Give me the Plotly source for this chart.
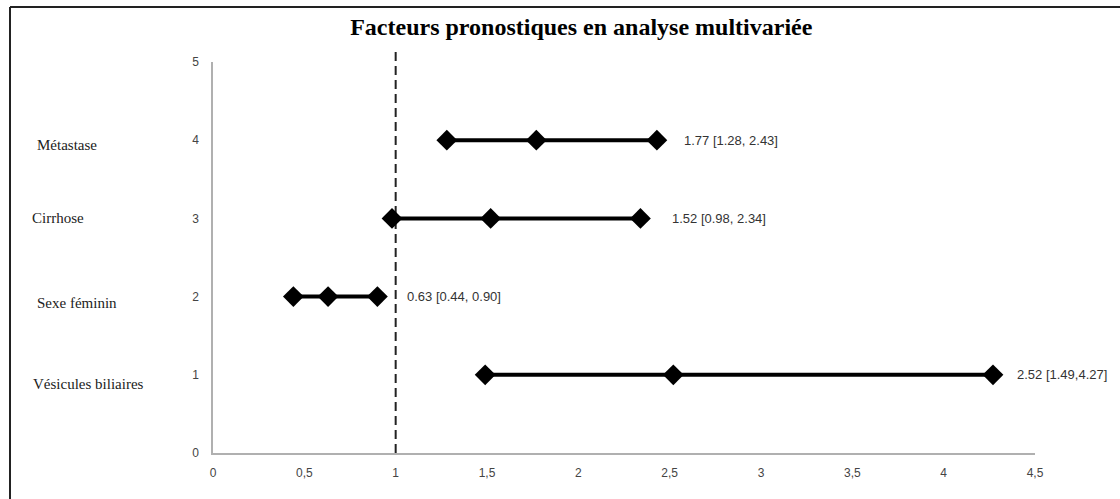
import plotly.graph_objects as go

categories = ["Vésicules biliaires", "Sexe féminin", "Cirrhose", "Métastase"]
positions = [1, 2, 3, 4]
odds_ratio = [2.52, 0.63, 1.52, 1.77]
ci_lower = [1.49, 0.44, 0.98, 1.28]
ci_upper = [4.27, 0.90, 2.34, 2.43]
ci_labels = ["2.52 [1.49,4.27]", "0.63 [0.44, 0.90]", "1.52 [0.98, 2.34]", "1.77 [1.28, 2.43]"]
x_ticks = [0, 0.5, 1, 1.5, 2, 2.5, 3, 3.5, 4, 4.5]
x_tick_text = ["0", "0,5", "1", "1,5", "2", "2,5", "3", "3,5", "4", "4,5"]
y_ticks = [0, 1, 2, 3, 4, 5]
reference_line = 1

W, H = 1120, 499
L, R, T, B = 213, 85, 62, 46
PW, PH = W - L - R, H - T - B


def px_x(px):
    return (px - L) / PW


def px_y(py):
    return (H - B - py) / PH


fig = go.Figure()

# dashed reference line at x = 1
fig.add_shape(type="line", xref="x", yref="paper",
              x0=reference_line, x1=reference_line, y0=0, y1=px_y(50),
              line=dict(color="#222222", width=2, dash="9px,5px"), layer="below")

for i, cat in enumerate(categories):
    fig.add_trace(go.Scatter(
        x=[ci_lower[i], odds_ratio[i], ci_upper[i]],
        y=[positions[i]] * 3,
        mode="lines+markers",
        line=dict(color="black", width=4),
        marker=dict(symbol="diamond", size=16, color="black"),
        showlegend=False,
        hoverinfo="skip",
        name=cat,
    ))

annotations = []
label_shift = [22, 28, 30, 25]
for i in range(len(categories)):
    annotations.append(dict(
        x=ci_upper[i], y=positions[i], xref="x", yref="y",
        text=ci_labels[i], showarrow=False, xanchor="left", yanchor="middle",
        xshift=label_shift[i],
        font=dict(family="Liberation Sans, Arial, sans-serif", size=13, color="#333333"),
    ))

cat_x = [31, 35, 30, 35]
cat_yshift = [-9, -6, 0, -5]
for i, cat in enumerate(categories):
    annotations.append(dict(
        x=px_x(cat_x[i]), y=positions[i], xref="paper", yref="y",
        text=cat, showarrow=False, xanchor="left", yanchor="middle",
        yshift=cat_yshift[i],
        font=dict(family="Liberation Serif, Times New Roman, serif", size=15, color="#222222"),
    ))

fig.update_layout(
    width=W, height=H,
    margin=dict(l=L, r=R, t=T, b=B),
    paper_bgcolor="white", plot_bgcolor="white",
    title=dict(
        text="<b>Facteurs pronostiques en analyse multivariée</b>",
        x=0.519, xanchor="center", y=1 - 27 / H, yanchor="middle",
        font=dict(family="Liberation Serif, Times New Roman, serif", size=24, color="black"),
    ),
    xaxis=dict(
        range=[0, 4.5], tickvals=x_ticks, ticktext=x_tick_text,
        showgrid=False, zeroline=False, showline=True, linecolor="#b0b0b0", linewidth=2,
        ticks="", ticklabelstandoff=8,
        tickfont=dict(family="Liberation Sans, Arial, sans-serif", size=12, color="#444444"),
    ),
    yaxis=dict(
        range=[0, 5], tickvals=y_ticks,
        showgrid=False, zeroline=False, showline=True, linecolor="#b0b0b0", linewidth=1.5,
        ticks="", ticklabelstandoff=10,
        tickfont=dict(family="Liberation Sans, Arial, sans-serif", size=12, color="#444444"),
    ),
    annotations=annotations,
)

# figure border (top and left edges only visible)
fig.add_shape(type="line", xref="paper", yref="paper",
              x0=px_x(10), x1=px_x(1120), y0=px_y(7), y1=px_y(7),
              line=dict(color="#222222", width=2))
fig.add_shape(type="line", xref="paper", yref="paper",
              x0=px_x(10), x1=px_x(10), y0=px_y(7), y1=px_y(500),
              line=dict(color="#222222", width=2))

fig.write_html("out.html", config={"displayModeBar": False},
               post_script="document.body.style.margin='0';")
